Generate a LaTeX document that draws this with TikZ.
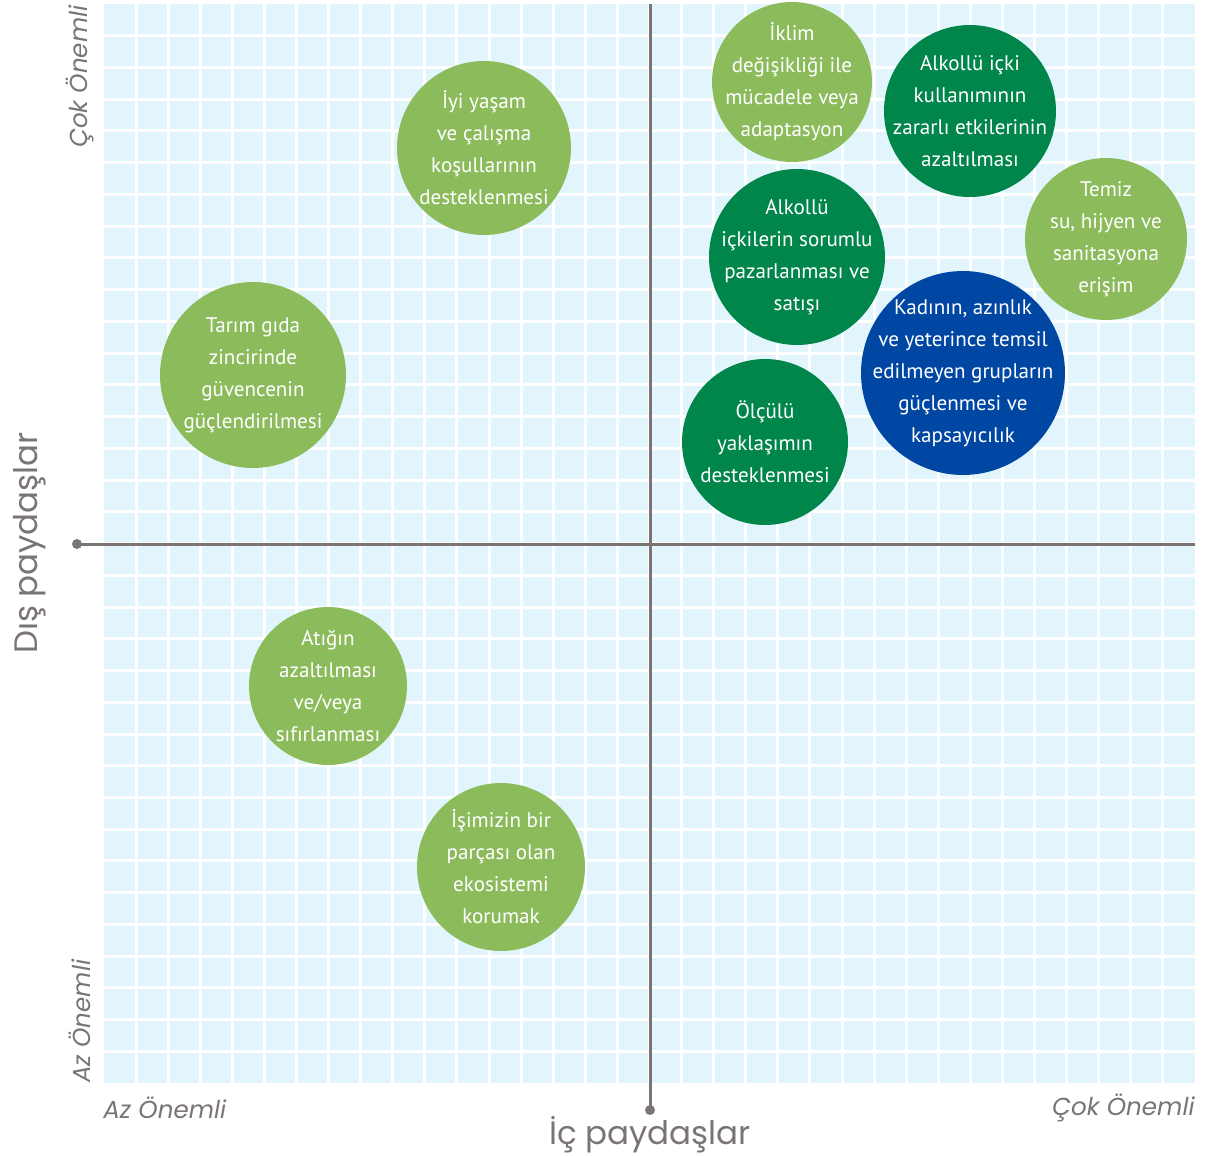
\documentclass[tikz,border=0pt]{standalone}
\usepackage{fontspec}
\setmainfont{PT Sans}
\newfontfamily\axisfont{Poppins}
\definecolor{lightgreen}{HTML}{8CBB5C}
\definecolor{darkgreen}{HTML}{00854A}
\definecolor{darkblue}{HTML}{0047A3}
\definecolor{gridblue}{HTML}{E3F5FC}
\definecolor{axisgray}{HTML}{7A7573}

\begin{document}
\begin{tikzpicture}[x=0.02cm, y=-0.02cm,
        konu/.style={circle, text=white, align=center, inner sep=-2cm,
            font=\fontsize{12}{18.2}\selectfont},
        eksen/.style={axisgray, font=\axisfont\fontsize{18.5}{22}\selectfont},
        onem/.style={axisgray, inner sep=0pt, font=\axisfont\itshape\fontsize{14}{16}\selectfont},
        nokta/.style={circle, fill=axisgray, inner sep=0pt, minimum size=0.2cm}]
        \useasboundingbox (0, 0) rectangle (1218, 1156);

        % kareli zemin
        \fill [gridblue] (104, 4) rectangle (1195, 1083);
        \foreach \i in {1,...,33} {
            \draw [white, line width=0.06cm] (104+32.09*\i, 4) -- (104+32.09*\i, 1083);
            \draw [white, line width=0.06cm] (104, 4+31.74*\i) -- (1195, 4+31.74*\i);
        }

        % eksenler
        \node [nokta] (dsol) at (77, 544) {};
        \coordinate (dsag) at (1195, 544);
        \coordinate (iust) at (650, 4);
        \node [nokta] (ialt) at (650, 1110) {};
        \draw [axisgray, line width=0.06cm] (dsol.center) -- (dsag);
        \draw [axisgray, line width=0.06cm] (iust) -- (ialt.center);

        \node [eksen, rotate=90] (dis) at (30, 543) {Dış paydaşlar};
        \node [eksen] (ic) at (650, 1135) {İç paydaşlar};
        \node [onem, rotate=90, anchor=east] (dcok) at (80, 5) {Çok Önemli};
        \node [onem, rotate=90, anchor=west] (daz) at (80, 1083) {Az Önemli};
        \node [onem, anchor=west] (iaz) at (103, 1108) {Az Önemli};
        \node [onem, anchor=east] (icok) at (1195, 1108) {Çok Önemli};

        % konular
        \node [konu, fill=lightgreen, minimum size=3.2cm] (iklim) at (792, 82) {İklim\\değişikliği ile\\mücadele veya\\adaptasyon};
        \node [konu, fill=darkgreen, minimum size=3.44cm] (alkol) at (970, 111) {Alkollü içki\\kullanımının\\zararlı etkilerinin\\azaltılması};
        \node [konu, fill=lightgreen, minimum size=3.24cm] (temiz) at (1106, 239) {Temiz\\su, hijyen ve\\sanitasyona\\erişim};
        \node [konu, fill=darkgreen, minimum size=3.52cm] (pazar) at (797, 257) {Alkollü\\içkilerin sorumlu\\pazarlanması ve\\satışı};
        \node [konu, fill=darkblue, minimum size=4.08cm] (kadin) at (963, 373) {Kadının, azınlık\\ve yeterince temsil\\edilmeyen grupların\\güçlenmesi ve\\kapsayıcılık};
        \node [konu, fill=darkgreen, minimum size=3.32cm] (olculu) at (765, 442) {Ölçülü\\yaklaşımın\\desteklenmesi};
        \node [konu, fill=lightgreen, minimum size=3.48cm] (yasam) at (484, 148) {İyi yaşam\\ve çalışma\\koşullarının\\desteklenmesi};
        \node [konu, fill=lightgreen, minimum size=3.72cm] (tarim) at (253, 375) {Tarım gıda\\zincirinde\\güvencenin\\güçlendirilmesi};
        \node [konu, fill=lightgreen, minimum size=3.16cm] (atik) at (328, 686) {Atığın\\azaltılması\\ve/veya\\sıfırlanması};
        \node [konu, fill=lightgreen, minimum size=3.36cm] (ekosis) at (501, 867) {İşimizin bir\\parçası olan\\ekosistemi\\korumak};
\end{tikzpicture}
\end{document}
